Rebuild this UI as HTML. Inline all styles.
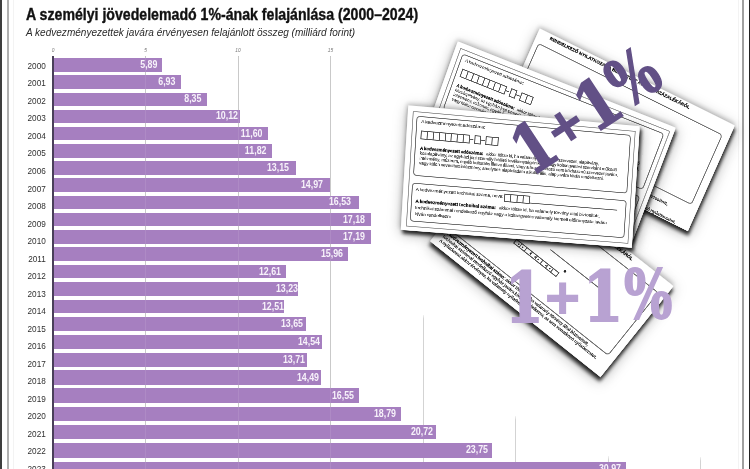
<!DOCTYPE html>
<html><head><meta charset="utf-8"><style>
*{margin:0;padding:0;box-sizing:border-box}
html,body{width:750px;height:469px;overflow:hidden;background:#fff}
body{position:relative;font-family:"Liberation Sans",Arial,sans-serif}
.b1{position:absolute;left:0;top:0;width:2px;height:469px;background:#3e3e3e}
.b2{position:absolute;left:7px;top:0;width:1.6px;height:469px;background:#b0b0b0}
.b5{position:absolute;left:13px;top:0;width:1px;height:469px;background:#f3f3f3}
.b6{position:absolute;left:737.5px;top:0;width:1px;height:469px;background:#f3f3f3}
.b3{position:absolute;left:742px;top:0;width:1.5px;height:469px;background:#a0a0a0}
.b4{position:absolute;left:748.5px;top:0;width:1.5px;height:469px;background:#222}
.ttl{position:absolute;left:26px;top:4.5px;font-weight:bold;font-size:15.6px;line-height:20px;color:#111;-webkit-text-stroke:0.35px #111;transform:scaleX(0.906);transform-origin:0 0;white-space:nowrap}
.sub{position:absolute;left:26.3px;top:25.1px;font-style:italic;font-size:10.8px;line-height:14px;color:#2a2a2a;transform:scaleX(0.929);transform-origin:0 0;white-space:nowrap}
.gl{position:absolute;width:1px;background:#c4c4c4}
.gf{background:linear-gradient(to bottom,rgba(196,196,196,0.3),#c4c4c4 4px)}
.glo{position:absolute;width:1px;background:rgba(255,255,255,0.09);z-index:3}
.bar{position:absolute;left:54px;background:#a67fc0;z-index:2}
.bar span{position:absolute;right:5.4px;top:50%;transform:translateY(-50%) translateY(-0.35px) scaleX(0.885);transform-origin:100% 50%;color:#f7f2fa;font-weight:bold;font-size:10px;line-height:10px;white-space:nowrap}
.yr{position:absolute;left:0;width:45.8px;text-align:right;font-size:9.9px;line-height:12px;color:#303030;transform:scaleX(0.83);transform-origin:100% 0}
.ax{position:absolute;left:52.3px;top:56px;width:1.8px;height:413px;background:#4a3f5a;z-index:4}
.tk{position:absolute;top:46.5px;width:20px;text-align:center;font-size:4.8px;font-style:italic;line-height:8px;color:#777}
.pp{position:absolute;left:0;top:0;transform-origin:0 0;background:#fff;box-shadow:4px 7px 7px rgba(0,0,0,0.8),3px 6px 26px rgba(0,0,0,0.36),-2px -3px 9px rgba(0,0,0,0.2);border:1px solid #e4e4e4}
.pp div{position:absolute}
.ol{border:2px solid #9a9a9a}
.fr{border:2.4px solid #707070;border-radius:7px}
.tx{color:#2b2b2b;white-space:normal;word-spacing:-0.5px;-webkit-text-stroke:0.2px #2b2b2b}
.tx u{text-decoration:none;font-weight:bold;color:#0a0a0a;-webkit-text-stroke:0.4px #0a0a0a}
.tb{font-weight:bold;color:#111;white-space:nowrap;-webkit-text-stroke:0.4px #111}
.dot{width:5px;height:5px;border-radius:50%;background:#222}
.bx{display:flex;align-items:center}
.bx i{display:block;flex:none;border:2px solid #555;margin-right:-2px;box-sizing:border-box}
.bx b{display:block;height:1.6px;background:#555;margin:0 1.2px}
.ln{height:1.6px;background:#666}
.bt{position:absolute;left:0;top:0;width:750px;height:469px;z-index:20;font-family:"DejaVu Serif",serif;font-weight:bold}
.bt span{position:absolute;line-height:1;transform-origin:0 0;white-space:nowrap;-webkit-text-stroke:1.8px currentColor}
.lt{color:#b8a2d2}
.dk{color:#625086}
#w{position:absolute;left:0;top:0;width:750px;height:469px;overflow:hidden;filter:blur(0.55px)}
</style></head><body><div id="w">
<div class="b1"></div><div class="b5"></div><div class="b6"></div><div class="b2"></div><div class="b3"></div><div class="b4"></div>
<div class="ttl">A személyi jövedelemadó 1%-ának felajánlása (2000–2024)</div>
<div class="sub">A kedvezményezettek javára érvényesen felajánlott összeg (milliárd forint)</div>
<div class="ax"></div>
<div class="gl" style="left:145.00px;top:56px;height:413px"></div>
<div class="gl" style="left:237.50px;top:56px;height:413px"></div>
<div class="gl" style="left:330.00px;top:56px;height:413px"></div>
<div class="gl gf" style="left:422.50px;top:315.0px;height:154.0px;opacity:0.75"></div>
<div class="gl gf" style="left:515.00px;top:415.5px;height:53.5px;opacity:0.75"></div>
<div class="gl gf" style="left:607.50px;top:455.8px;height:13.2px;opacity:0.75"></div>
<div class="gl gf" style="left:700.00px;top:456.5px;height:12.5px;opacity:0.75"></div>
<div class="bar" style="top:58.01px;height:13.58px;width:107.96px"><span style="right:4.96px">5,89</span></div>
<div class="yr" style="top:59.80px">2000</div>
<div class="bar" style="top:75.28px;height:13.55px;width:127.20px"><span style="right:5.60px">6,93</span></div>
<div class="yr" style="top:77.33px">2001</div>
<div class="bar" style="top:92.52px;height:13.52px;width:153.47px"><span style="right:5.87px">8,35</span></div>
<div class="yr" style="top:94.86px">2002</div>
<div class="bar" style="top:109.72px;height:13.51px;width:186.22px"><span style="right:2.62px">10,12</span></div>
<div class="yr" style="top:112.39px">2003</div>
<div class="bar" style="top:126.90px;height:13.50px;width:213.60px"><span style="right:5.40px">11,60</span></div>
<div class="yr" style="top:129.92px">2004</div>
<div class="bar" style="top:144.07px;height:13.49px;width:217.67px"><span style="right:5.27px">11,82</span></div>
<div class="yr" style="top:147.45px">2005</div>
<div class="bar" style="top:161.24px;height:13.50px;width:242.27px"><span style="right:6.87px">13,15</span></div>
<div class="yr" style="top:164.98px">2006</div>
<div class="bar" style="top:178.41px;height:13.51px;width:275.94px"><span style="right:7.25px">14,97</span></div>
<div class="yr" style="top:182.51px">2007</div>
<div class="bar" style="top:195.60px;height:13.53px;width:304.81px"><span style="right:7.40px">16,53</span></div>
<div class="yr" style="top:200.04px">2008</div>
<div class="bar" style="top:212.82px;height:13.56px;width:316.83px"><span style="right:5.43px">17,18</span></div>
<div class="yr" style="top:217.57px">2009</div>
<div class="bar" style="top:230.07px;height:13.59px;width:317.02px"><span style="right:5.62px">17,19</span></div>
<div class="yr" style="top:235.10px">2010</div>
<div class="bar" style="top:247.37px;height:13.63px;width:294.26px"><span style="right:5.26px">15,96</span></div>
<div class="yr" style="top:252.63px">2011</div>
<div class="bar" style="top:264.72px;height:13.68px;width:232.28px"><span style="right:4.98px">12,61</span></div>
<div class="yr" style="top:270.16px">2012</div>
<div class="bar" style="top:282.13px;height:13.74px;width:243.75px"><span style="right:-0.05px">13,23</span></div>
<div class="yr" style="top:287.69px">2013</div>
<div class="bar" style="top:299.62px;height:13.80px;width:230.44px"><span style="right:0.83px">12,51</span></div>
<div class="yr" style="top:305.22px">2014</div>
<div class="bar" style="top:317.18px;height:13.87px;width:251.52px"><span style="right:2.52px">13,65</span></div>
<div class="yr" style="top:322.75px">2015</div>
<div class="bar" style="top:334.84px;height:13.95px;width:267.99px"><span style="right:2.09px">14,54</span></div>
<div class="yr" style="top:340.28px">2016</div>
<div class="bar" style="top:352.60px;height:14.03px;width:252.63px"><span style="right:1.94px">13,71</span></div>
<div class="yr" style="top:357.81px">2017</div>
<div class="bar" style="top:370.46px;height:14.13px;width:267.06px"><span style="right:1.76px">14,49</span></div>
<div class="yr" style="top:375.34px">2018</div>
<div class="bar" style="top:388.45px;height:14.22px;width:305.18px"><span style="right:5.27px">16,55</span></div>
<div class="yr" style="top:392.87px">2019</div>
<div class="bar" style="top:406.56px;height:14.33px;width:346.62px"><span style="right:4.32px">18,79</span></div>
<div class="yr" style="top:410.40px">2020</div>
<div class="bar" style="top:424.81px;height:14.45px;width:382.32px"><span style="right:3.72px">20,72</span></div>
<div class="yr" style="top:427.93px">2021</div>
<div class="bar" style="top:443.21px;height:14.57px;width:438.38px"><span style="right:4.08px">23,75</span></div>
<div class="yr" style="top:445.46px">2022</div>
<div class="bar" style="top:461.76px;height:14.70px;width:571.94px"><span style="right:4.84px">30,97</span></div>
<div class="yr" style="top:462.99px">2023</div>
<div class="glo" style="left:145.00px;top:57px;height:412px"></div>
<div class="glo" style="left:237.50px;top:57px;height:412px"></div>
<div class="glo" style="left:330.00px;top:57px;height:412px"></div>
<div class="tk" style="left:43.00px">0</div>
<div class="tk" style="left:135.50px">5</div>
<div class="tk" style="left:228.00px">10</div>
<div class="tk" style="left:320.50px">15</div>
<div class="pp " style="width:440px;height:224px;transform:matrix3d(0.364337,0.294235,0,-3.60522e-05,-0.339641,0.391055,0,-2.78444e-05,0,0,1,0,503,152,0,1);z-index:11"><div class="tb" style="left:26.6px;top:3.2px;width:400.0px;font-size:9.2px;line-height:10.0px">RENDELKEZŐ NYILATKOZAT A BEFIZETETT ADÓ 1+1 SZÁZALÉKÁRÓL</div><div class="fr" style="left:9.0px;top:27.0px;width:415.0px;height:155.0px"></div><div class="ln" style="left:200.0px;top:90.0px;width:124.0px"></div><div class="dot" style="left:248.0px;top:104.0px"></div><div class="bx" style="left:133.0px;top:115.0px;height:11.2px"><i style="width:15.6px;height:11.2px"></i><i style="width:15.6px;height:11.2px"></i><i style="width:15.6px;height:11.2px"></i><i style="width:15.6px;height:11.2px"></i><i style="width:15.6px;height:11.2px"></i><i style="width:15.6px;height:11.2px"></i><i style="width:15.6px;height:11.2px"></i><i style="width:15.6px;height:11.2px"></i></div><div class="dot" style="left:142.0px;top:119.2px;width:3px;height:3px"></div><div class="dot" style="left:152.0px;top:119.2px;width:3px;height:3px"></div><div class="dot" style="left:172.0px;top:119.2px;width:3px;height:3px"></div><div class="dot" style="left:184.0px;top:119.2px;width:3px;height:3px"></div><div class="dot" style="left:192.0px;top:119.2px;width:3px;height:3px"></div><div class="dot" style="left:212.0px;top:119.2px;width:3px;height:3px"></div><div class="dot" style="left:222.0px;top:119.2px;width:3px;height:3px"></div><div class="tx" style="left:14.0px;top:183.6px;width:396.0px;font-size:8.8px;line-height:10.2px"><b><u>A kedvezményezett technikai száma:</u> akkor töltse ki, ha valamely törvény által biztosított, technikai számmal rendelkező egyház javára kíván rendelkezni, az arra vonatkozó nyilatkozatot. A nyilatkozat akkor érvényes, ha valamely nyilatkozat.</b></div></div>
<div class="pp " style="width:440px;height:234px;transform:matrix3d(0.438109,0.220039,0,-8.75473e-06,-0.194627,0.45422,0,9.16462e-06,0,0,1,0,539.6,28,0,1);z-index:12"><div class="tb" style="left:26.6px;top:3.2px;width:400.0px;font-size:9.2px;line-height:10.0px">RENDELKEZŐ NYILATKOZAT A BEFIZETETT ADÓ 1+1 SZÁZALÉKÁRÓL</div><div class="fr" style="left:9.0px;top:27.0px;width:415.0px;height:155.0px"></div><div class="tx" style="left:14.0px;top:189.0px;width:396.0px;font-size:8.8px;line-height:26.0px"><b><u>A kedvezményezett technikai száma:</u> akkor töltse ki, ha valamely törvény által biztosított, technikai számmal rendelkező egyház javára kíván rendelkezni, az arra vonatkozó nyilatkozatot. A nyilatkozat akkor érvényes, ha valamely nyilatkozat.</b></div></div>
<div class="pp " style="width:464px;height:244px;transform:matrix3d(0.438953,0.180573,0,-4.75709e-05,-0.141208,0.462996,0,5.0447e-05,0,0,1,0,457.6,40.9,0,1);z-index:13"><div class="ol" style="left:8.6px;top:9.6px;width:446.4px;height:225.4px"></div><div class="fr" style="left:17.0px;top:18.6px;width:429.0px;height:122.0px"></div><div class="fr" style="left:16.0px;top:155.0px;width:430.0px;height:69.0px"></div><div class="tx" style="left:26.8px;top:26.4px;width:240.0px;font-size:9.2px;line-height:9.4px">A kedvezményezett adószáma:</div><div class="bx" style="left:27.4px;top:48.4px;height:17.2px"><i style="width:13.8px;height:17.2px"></i><i style="width:13.8px;height:17.2px"></i><i style="width:13.8px;height:17.2px"></i><i style="width:13.8px;height:17.2px"></i><i style="width:13.8px;height:17.2px"></i><i style="width:13.8px;height:17.2px"></i><i style="width:13.8px;height:17.2px"></i><i style="width:13.8px;height:17.2px"></i><b style="width:8.4px"></b><i style="width:13.8px;height:17.2px"></i><b style="width:8.4px"></b><i style="width:13.8px;height:17.2px"></i><i style="width:13.8px;height:17.2px"></i></div><div class="tx" style="left:27.6px;top:78.8px;width:404.0px;font-size:8.6px;line-height:10.0px"><u>A kedvezményezett adószáma:</u> &nbsp; akkor töltse ki, ha valamely társadalmi szervezet, alapítvány, közalapítvány, az egyházi jogi személy hitéleti tevékenységén kívül vagy költségvetési szervként működő intézmény, múzeum, egyéb kulturális illetve állami, vagy a hozzá tartozó nem közhasznú szervezet javára, vagy külön nevesített intézmény, amelynek alapfeladata a kulturális, alap javára kíván rendelkezni.</div><div class="tx" style="left:24.0px;top:164.0px;width:200.0px;font-size:9.2px;line-height:9.4px">A kedvezményezett technikai száma, neve:</div><div class="bx" style="left:199.0px;top:162.4px;height:16.4px"><i style="width:14.4px;height:16.4px"></i><i style="width:14.4px;height:16.4px"></i><i style="width:14.4px;height:16.4px"></i><i style="width:14.4px;height:16.4px"></i></div><div class="ln" style="left:249.2px;top:176.4px;width:178.8px"></div><div class="tx" style="left:24.8px;top:186.4px;width:404.0px;font-size:9.2px;line-height:13.0px"><u>A kedvezményezett technikai száma:</u> &nbsp; akkor töltse ki, ha valamely törvény által biztosított, technikai számmal rendelkező egyház vagy a költségvetés valamely kiemelt előirányzata javára kíván rendelkezni.</div></div>
<div class="pp " style="width:464px;height:254px;transform:matrix3d(0.533308,0.0518162,0,5.20439e-05,-0.0248062,0.494837,0,1.17887e-05,0,0,1,0,408,105,0,1);z-index:14"><div class="ol" style="left:8.6px;top:9.6px;width:446.4px;height:235.4px"></div><div class="fr" style="left:17.0px;top:18.6px;width:429.0px;height:122.0px"></div><div class="fr" style="left:16.0px;top:155.0px;width:430.0px;height:79.0px"></div><div class="tx" style="left:26.8px;top:26.4px;width:240.0px;font-size:9.2px;line-height:9.4px">A kedvezményezett adószáma:</div><div class="bx" style="left:27.4px;top:48.4px;height:17.2px"><i style="width:13.8px;height:17.2px"></i><i style="width:13.8px;height:17.2px"></i><i style="width:13.8px;height:17.2px"></i><i style="width:13.8px;height:17.2px"></i><i style="width:13.8px;height:17.2px"></i><i style="width:13.8px;height:17.2px"></i><i style="width:13.8px;height:17.2px"></i><i style="width:13.8px;height:17.2px"></i><b style="width:8.4px"></b><i style="width:13.8px;height:17.2px"></i><b style="width:8.4px"></b><i style="width:13.8px;height:17.2px"></i><i style="width:13.8px;height:17.2px"></i></div><div class="tx" style="left:27.6px;top:78.8px;width:404.0px;font-size:8.6px;line-height:10.0px"><u>A kedvezményezett adószáma:</u> &nbsp; akkor töltse ki, ha valamely társadalmi szervezet, alapítvány, közalapítvány, az egyházi jogi személy hitéleti tevékenységén kívül vagy költségvetési szervként működő intézmény, múzeum, egyéb kulturális illetve állami, vagy a hozzá tartozó nem közhasznú szervezet javára, vagy külön nevesített intézmény, amelynek alapfeladata a kulturális, alap javára kíván rendelkezni.</div><div class="tx" style="left:24.0px;top:164.0px;width:200.0px;font-size:9.2px;line-height:9.4px">A kedvezményezett technikai száma, neve:</div><div class="bx" style="left:199.0px;top:162.4px;height:16.4px"><i style="width:14.4px;height:16.4px"></i><i style="width:14.4px;height:16.4px"></i><i style="width:14.4px;height:16.4px"></i><i style="width:14.4px;height:16.4px"></i></div><div class="ln" style="left:249.2px;top:176.4px;width:178.8px"></div><div class="tx" style="left:24.8px;top:186.4px;width:404.0px;font-size:9.2px;line-height:13.0px"><u>A kedvezményezett technikai száma:</u> &nbsp; akkor töltse ki, ha valamely törvény által biztosított, technikai számmal rendelkező egyház vagy a költségvetés valamely kiemelt előirányzata javára kíván rendelkezni.</div></div>
<div class="bt lt"><span style="left:505.25px;top:264.40px;font-size:68.40px;transform:scaleX(0.810)">1</span><span style="left:542.75px;top:273.00px;font-size:47.50px;transform:scaleX(0.985)">+</span><span style="left:582.95px;top:263.20px;font-size:68.40px;transform:scaleX(0.847)">1</span><span style="left:623.60px;top:261.20px;font-size:67.70px;transform:scaleX(0.752)">%</span></div><div class="bt dk" style="transform-origin:525.2px 297.2px;transform:translate(9.3px,-151.2px) rotate(-33.4deg) scale(0.978)"><span style="left:505.25px;top:264.40px;font-size:68.40px;transform:scaleX(0.810)">1</span><span style="left:542.75px;top:273.00px;font-size:47.50px;transform:scaleX(0.985)">+</span><span style="left:582.95px;top:263.20px;font-size:68.40px;transform:scaleX(0.847)">1</span><span style="left:623.60px;top:261.20px;font-size:67.70px;transform:scaleX(0.752)">%</span></div>
</div></body></html>
